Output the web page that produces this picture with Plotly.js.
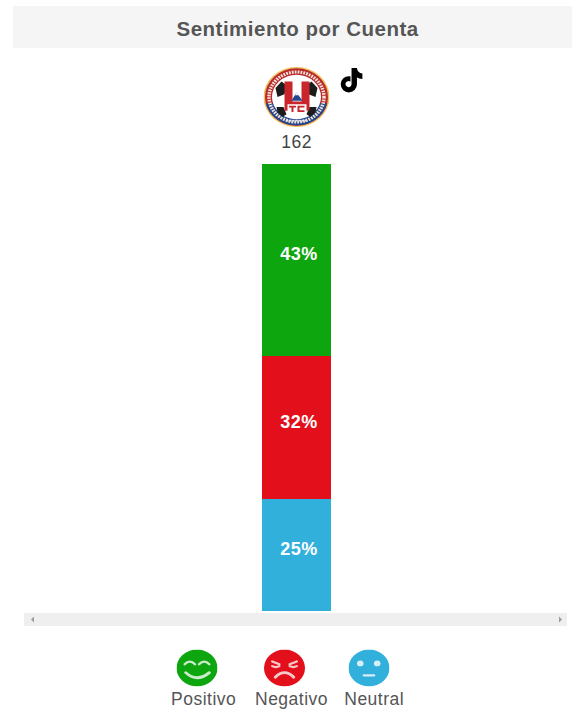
<!DOCTYPE html>
<html>
<head>
<meta charset="utf-8">
<script src="https://cdn.plot.ly/plotly-3.0.1.min.js"></script>
<style>
html,body{margin:0;padding:0;background:#fff}
#chart{width:572px;height:726px}
#chart .annotation-text{letter-spacing:.5px}
</style>
</head>
<body>
<div id="chart"></div>
<script>
// Sentiment share for one account, stacked from the bottom up.
const account = "UTC";
const totalMentions = "162";
const sentiments = ["Neutral", "Negativo", "Positivo"];
const shares = [25, 32, 43];
const barColors = ["#32b0dc", "#e30f1b", "#0ea60f"];
const legendOrder = ["Positivo", "Negativo", "Neutral"];

const W = 572, H = 726;
const FONT = "Liberation Sans, Arial, sans-serif";
const px = x => x / W;
const py = y => 1 - y / H;
const svgUri = s => "data:image/svg+xml;utf8," + encodeURIComponent(s);

// Face icons for the legend
const face = (color, stroke, inner) => svgUri(
  `<svg xmlns="http://www.w3.org/2000/svg" viewBox="0 0 40 40" preserveAspectRatio="none"><circle cx="20" cy="20" r="20" fill="${color}"/>` +
  `<g fill="none" stroke="${stroke}" stroke-width="2.4" stroke-linecap="round">${inner}</g></svg>`);
const faceIcons = {
  Positivo: face("#0ea60f", "#c9eccb", '<path d="M8 16q5-6 10 0M22 16q5-6 10 0"/><path d="M9 25q11 11 23 0" stroke-width="3"/>'),
  Negativo: face("#e30f1b", "#f6c9cb", '<path d="M8 13l7 3M32 13l-7 3M8 18q3.500 2 7 0M25 18q3.500 2 7 0"/><path d="M11 30q9-10 18 0" stroke-width="3"/>'),
  Neutral: face("#32b0dc", "#d5eef7", '<circle cx="11.500" cy="15" r="3.200" fill="#d5eef7" stroke="none"/><circle cx="28" cy="15" r="3.200" fill="#d5eef7" stroke="none"/><path d="M15 28h10"/>')
};

// Account badge: ringed crest over a football
const badge = svgUri(`<svg xmlns="http://www.w3.org/2000/svg" viewBox="0 0 66 66" preserveAspectRatio="none">
<circle cx="33" cy="33" r="33" fill="#f0c25a"/>
<circle cx="33" cy="33" r="31.500" fill="#b9282f"/>
<path d="M2.300 40A31.500 31.500 0 0 0 63.700 40Z" fill="#24468f"/>
<circle cx="33" cy="33" r="27.500" fill="none" stroke="#f3e3d2" stroke-width="3.500" stroke-dasharray="1.800 1.100"/>
<circle cx="33" cy="33" r="24.500" fill="#fff"/>
<path d="M12 23l6-7 5 4-2 10-7 3zM54 23l-6-7-5 4 2 10 7 3zM13 44l7 0 3 8-4 3-5-5zM53 44l-7 0-3 8 4 3 5-5z" fill="#1c1c1c"/>
<path d="M21 16h8v22h9V16h8v32H21z" fill="#c9252c"/>
<path d="M28 37l5-9 6 9z" fill="#24468f"/><path d="M31.500 31l1.500-3 2 3z" fill="#fff"/>
<path d="M24 41h19v9H24z" fill="#fff"/>
<path d="M25.500 42.500h7v2h-2.500v5h-2v-5h-2.500zM34 42.500h7v2h-5v3h5v2h-7z" fill="#c9252c"/>
<path d="M23 59h20" stroke="#dfe6f5" stroke-width="2" stroke-dasharray="2 1"/></svg>`);

// Platform mark: musical note glyph
const noteMark = svgUri(`<svg xmlns="http://www.w3.org/2000/svg" viewBox="0 0 24 24">
<path d="M12.500 1h5c.3 3 2 4.800 5 5v5c-2 0-3.700-.5-5-1.500v6.500a7.500 7.500 0 1 1-7.500-7.500c.5 0 1 .05 1.500.15v5a2.800 2.800 0 1 0 1 2.200z" fill="#000"/></svg>`);

const traces = sentiments.map((name, i) => ({
  type: "bar",
  name,
  x: [account],
  y: [shares[i]],
  width: 1,
  marker: { color: barColors[i], line: { width: 0 } },
  hoverinfo: "name+y"
}));

// Percentage labels sit just above each segment's midpoint
let running = 0;
const shareLabels = shares.map(v => {
  const mid = running + v / 2;
  running += v;
  return {
    text: v + "%", xref: "x", yref: "y", x: account, y: mid,
    xshift: 2, yshift: 6, showarrow: false,
    xanchor: "center", yanchor: "middle",
    font: { family: FONT, size: 18, color: "#fff", weight: 700 }
  };
});

const legendCenters = { Positivo: 197, Negativo: 284.5, Neutral: 369 };
const legendLabelCenters = { Positivo: 203, Negativo: 291, Neutral: 373.5 };
const icon = (source, cx, cy, w, h) => ({
  source, xref: "paper", yref: "paper",
  x: px(cx - w / 2), y: py(cy - h / 2),
  sizex: w / W, sizey: h / H,
  xanchor: "left", yanchor: "top", sizing: "stretch", layer: "above"
});
const band = (x0, y0, x1, y1, color) => ({
  type: "rect", xref: "paper", yref: "paper",
  x0: px(x0), x1: px(x1), y0: py(y0), y1: py(y1),
  fillcolor: color, line: { width: 0 }, layer: "below"
});
const arrow = (tip, back) => ({
  type: "path", xref: "paper", yref: "paper",
  path: `M${px(back)},${py(616.5)} L${px(tip)},${py(619.5)} L${px(back)},${py(622.5)} Z`,
  fillcolor: "#9a9a9a", line: { width: 0 }, layer: "above"
});
const note = (text, xc, yc, size, color, weight) => ({
  text, xref: "paper", yref: "paper", x: px(xc), y: py(yc),
  xanchor: "center", yanchor: "middle", showarrow: false,
  font: { family: FONT, size, color, weight: weight || 400 }
});

const layout = {
  width: W, height: H,
  margin: { l: 0, r: 0, t: 0, b: 0 },
  paper_bgcolor: "#fff", plot_bgcolor: "rgba(0,0,0,0)",
  barmode: "stack", bargap: 0, showlegend: false,
  xaxis: { type: "category", domain: [px(262), px(331)], range: [-0.5, 0.5], visible: false, fixedrange: true },
  yaxis: { domain: [py(611), py(164)], range: [0, 100], visible: false, fixedrange: true },
  shapes: [
    band(13, 6, 572, 48, "#f5f5f5"),
    band(24, 613, 567, 626, "#efefef"),
    arrow(31, 34),
    arrow(562, 559)
  ],
  images: [
    icon(badge, 296.5, 97, 66, 60),
    icon(noteMark, 351, 80, 26, 26)
  ].concat(legendOrder.map(n => icon(faceIcons[n], legendCenters[n], 668, 41, 37))),
  annotations: [
    note("Sentimiento por Cuenta", 297.5, 28.5, 20.5, "#555555", 700),
    note(totalMentions, 296.5, 141.5, 17.5, "#444444")
  ].concat(shareLabels)
   .concat(legendOrder.map(n => note(n, legendLabelCenters[n], 699, 17.5, "#555555")))
};

Plotly.newPlot("chart", traces, layout, { displayModeBar: false, staticPlot: true });
</script>
</body>
</html>
